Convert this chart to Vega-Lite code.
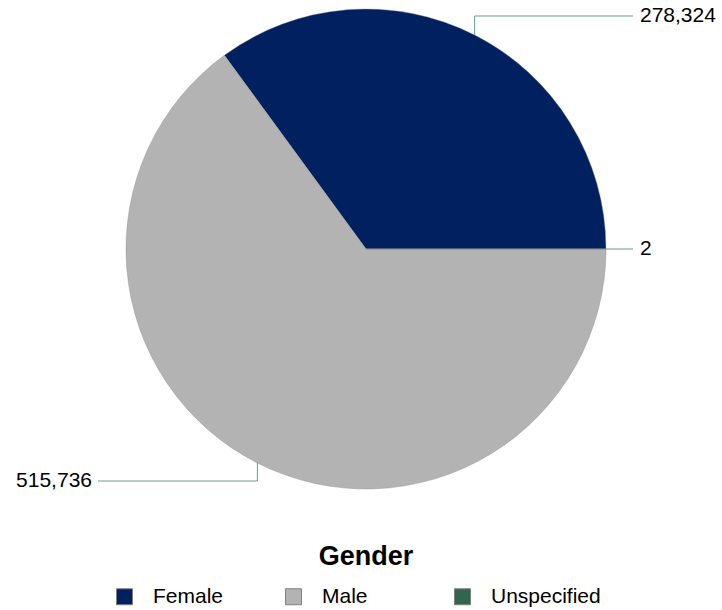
{
  "$schema": "https://vega.github.io/schema/vega-lite/v6.json",
  "width": 712,
  "height": 498,
  "autosize": "none",
  "padding": {"left": 10, "top": 0, "right": 0, "bottom": 112},
  "background": "white",
  "config": {"view": {"stroke": null}, "font": "Liberation Sans"},
  "title": {"text": "Gender", "orient": "bottom", "anchor": "middle", "fontSize": 27, "fontWeight": "bold", "color": "black", "offset": -63},
  "data": {
    "values": [
      {"gender": "Female", "value": 278324},
      {"gender": "Male", "value": 515736},
      {"gender": "Unspecified", "value": 2}
    ]
  },
  "layer": [
    {
      "mark": {"type": "arc", "radius": 240, "stroke": "#8a8a8a", "strokeWidth": 0.4},
      "encoding": {
        "theta": {"field": "value", "type": "quantitative", "stack": true, "scale": {"range": [1.5707963, 7.8539816]}},
        "order": {"field": "gender", "sort": "descending"},
        "color": {
          "field": "gender",
          "type": "nominal",
          "scale": {"domain": ["Female", "Male", "Unspecified"], "range": ["#002060", "#b3b3b3", "#2e6650"]},
          "legend": {
            "orient": "none",
            "legendX": 104,
            "legendY": 586,
            "direction": "horizontal",
            "columns": 3,
            "gridAlign": "all",
            "columnPadding": 20,
            "title": null,
            "labelFontSize": 21,
            "labelColor": "black",
            "labelOffset": 18,
            "symbolType": "square",
            "symbolSize": 256,
            "symbolStrokeColor": "#808080",
            "symbolStrokeWidth": 1
          }
        }
      }
    },
    {
      "transform": [
        {"stack": "value", "groupby": [], "sort": [{"field": "gender", "order": "descending"}], "as": ["v0", "v1"]},
        {"joinaggregate": [{"op": "sum", "field": "value", "as": "total"}]},
        {"calculate": "PI/2 + PI*(datum.v0+datum.v1)/datum.total", "as": "ang"},
        {"calculate": "240*sin(datum.ang)", "as": "rx"},
        {"calculate": "-240*cos(datum.ang)", "as": "ry"},
        {"calculate": "datum.ry < -1 ? datum.ry-19 : (datum.ry > 1 ? datum.ry+18 : 0)", "as": "ey"},
        {"calculate": "datum.rx > 0 ? 267 : -268", "as": "ex"},
        {"calculate": "datum.rx > 0 ? 274 : -274", "as": "lx"}
      ],
      "layer": [
        {
          "mark": {"type": "rule", "stroke": "#6a9a8e", "strokeWidth": 1},
          "encoding": {
            "x": {"field": "rx", "type": "quantitative", "scale": {"domain": [-356, 356], "nice": false, "zero": false}, "axis": null},
            "y": {"field": "ry", "type": "quantitative", "scale": {"domain": [-249, 249], "nice": false, "zero": false, "reverse": true}, "axis": null},
            "y2": {"field": "ey"}
          }
        },
        {
          "mark": {"type": "rule", "stroke": "#6a9a8e", "strokeWidth": 1},
          "encoding": {
            "x": {"field": "rx", "type": "quantitative"},
            "x2": {"field": "ex"},
            "y": {"field": "ey", "type": "quantitative"}
          }
        },
        {
          "transform": [{"filter": "datum.rx > 0"}],
          "mark": {"type": "text", "align": "left", "baseline": "middle", "fontSize": 21, "color": "black"},
          "encoding": {
            "x": {"field": "lx", "type": "quantitative"},
            "y": {"field": "ey", "type": "quantitative"},
            "text": {"field": "value", "type": "quantitative", "format": ","}
          }
        },
        {
          "transform": [{"filter": "datum.rx <= 0"}],
          "mark": {"type": "text", "align": "right", "baseline": "middle", "fontSize": 21, "color": "black"},
          "encoding": {
            "x": {"field": "lx", "type": "quantitative"},
            "y": {"field": "ey", "type": "quantitative"},
            "text": {"field": "value", "type": "quantitative", "format": ","}
          }
        }
      ]
    }
  ]
}
